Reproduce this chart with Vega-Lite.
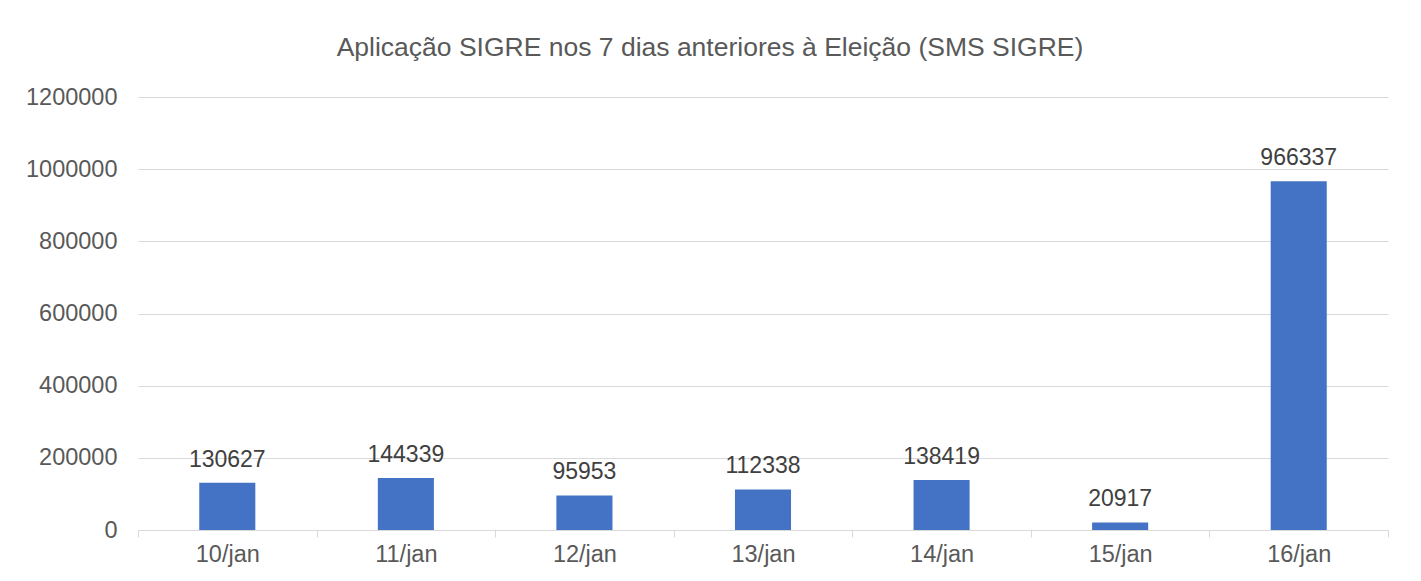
{
  "$schema": "https://vega.github.io/schema/vega-lite/v6.json",
  "width": 1250,
  "height": 433,
  "autosize": "none",
  "padding": {"left": 138, "top": 97, "right": 33, "bottom": 51},
  "background": "white",
  "title": {
    "text": "Aplicação SIGRE nos 7 dias anteriores à Eleição (SMS SIGRE)",
    "anchor": "middle",
    "dx": -53,
    "offset": 24,
    "font": "Liberation Sans",
    "fontSize": 26.5,
    "fontWeight": "normal",
    "color": "#595959"
  },
  "data": {
    "values": [
      {"dia": "10/jan", "valor": 130627},
      {"dia": "11/jan", "valor": 144339},
      {"dia": "12/jan", "valor": 95953},
      {"dia": "13/jan", "valor": 112338},
      {"dia": "14/jan", "valor": 138419},
      {"dia": "15/jan", "valor": 20917},
      {"dia": "16/jan", "valor": 966337}
    ]
  },
  "encoding": {
    "x": {
      "field": "dia",
      "type": "nominal",
      "sort": null,
      "scale": {"paddingInner": 0, "paddingOuter": 0},
      "axis": {
        "title": null,
        "labelAngle": 0,
        "tickBand": "extent",
        "tickSize": 7,
        "tickColor": "#d9d9d9",
        "domainColor": "#d9d9d9",
        "labelFont": "Liberation Sans",
        "labelFontSize": 23.5,
        "labelColor": "#595959",
        "labelPadding": 5
      }
    },
    "y": {
      "field": "valor",
      "type": "quantitative",
      "scale": {"domain": [0, 1200000]},
      "axis": {
        "title": null,
        "values": [0, 200000, 400000, 600000, 800000, 1000000, 1200000],
        "format": "d",
        "domain": false,
        "ticks": false,
        "gridColor": "#d9d9d9",
        "labelFont": "Liberation Sans",
        "labelFontSize": 23.5,
        "labelColor": "#595959",
        "labelPadding": 21
      }
    }
  },
  "layer": [
    {
      "mark": {"type": "bar", "color": "#4472C4", "width": {"band": 0.314}}
    },
    {
      "mark": {
        "type": "text",
        "baseline": "alphabetic",
        "dy": -16,
        "font": "Liberation Sans",
        "fontSize": 23,
        "color": "#404040"
      },
      "encoding": {"text": {"field": "valor", "type": "quantitative", "format": "d"}}
    }
  ],
  "config": {"view": {"stroke": null}}
}
